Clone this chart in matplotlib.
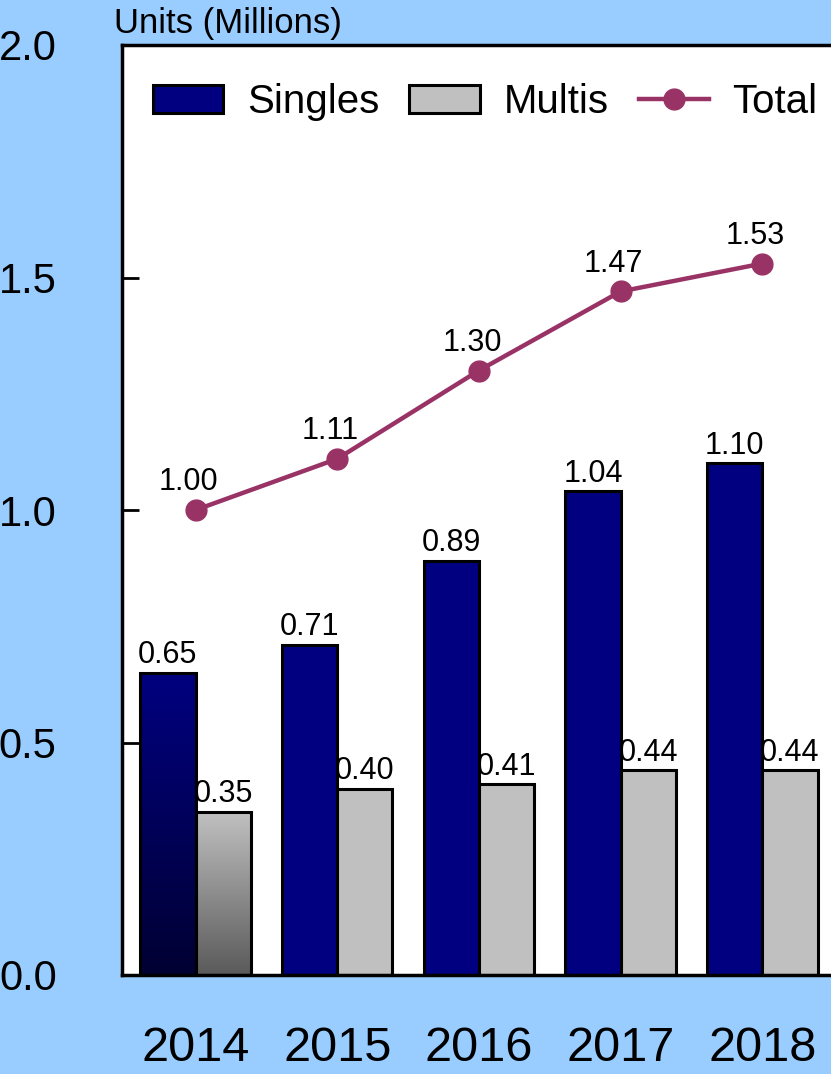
import numpy as np
import matplotlib
matplotlib.use('Agg')
import matplotlib.pyplot as plt
from matplotlib.patches import Patch
from matplotlib.lines import Line2D
from matplotlib.colors import LinearSegmentedColormap

years = ['2014', '2015', '2016', '2017', '2018']
singles = [0.65, 0.71, 0.89, 1.04, 1.10]
multis = [0.35, 0.40, 0.41, 0.44, 0.44]
total = [1.00, 1.11, 1.30, 1.47, 1.53]

navy = '#000080'
grey = '#C0C0C0'
maroon = '#993366'
bg = '#99CCFF'

plt.rcParams['font.family'] = ['Liberation Sans', 'DejaVu Sans']

fig = plt.figure(figsize=(8.31, 10.74), dpi=100, facecolor=bg)
ax = fig.add_axes([122 / 831, 1 - 975 / 1074, 714 / 831, 930 / 1074])
ax.set_facecolor('white')

x = np.arange(len(years))
w = 0.39
b1 = ax.bar(x - w / 2, singles, w, color=navy, edgecolor='black', linewidth=2.2, zorder=2)
b2 = ax.bar(x + w / 2, multis, w, color=grey, edgecolor='black', linewidth=2.2, zorder=2)

# gradient fill on the first pair of bars
for bars, c_top, c_bot in [(b1, navy, '#000033'), (b2, grey, '#5A5A5A')]:
    p = bars.patches[0]
    p.set_facecolor('none')
    cmap = LinearSegmentedColormap.from_list('g', [c_bot, c_top])
    x0, y0 = p.get_x(), p.get_y()
    grad = np.linspace(0, 1, 256).reshape(-1, 1)
    im = ax.imshow(grad, cmap=cmap, origin='lower', aspect='auto',
                   extent=[x0, x0 + p.get_width(), y0, y0 + p.get_height()], zorder=1.5)
    im.set_clip_path(p)

ax.plot(x, total, color=maroon, linewidth=3.2, marker='o', markersize=15, zorder=3)

for i in range(len(years)):
    ax.annotate(f'{singles[i]:.2f}', (x[i] - w / 2, singles[i]), xytext=(0, 2),
                textcoords='offset points', ha='center', va='bottom', fontsize=22)
    ax.annotate(f'{multis[i]:.2f}', (x[i] + w / 2, multis[i]), xytext=(0, 2),
                textcoords='offset points', ha='center', va='bottom', fontsize=22)
    ax.annotate(f'{total[i]:.2f}', (x[i], total[i]), xytext=(-5, 9),
                textcoords='offset points', ha='center', va='bottom', fontsize=22)

ax.set_xlim(-0.519, 4.52)
ax.set_ylim(0, 2.0)
ax.set_yticks([0, 0.5, 1.0, 1.5, 2.0])
ax.set_yticklabels(['0.0', '0.5', '1.0', '1.5', '2.0'], fontsize=30)
ax.set_xticks(x)
ax.set_xticklabels(years, fontsize=35)
ax.tick_params(axis='y', direction='in', length=12, width=2, pad=47)
ax.tick_params(axis='x', length=0, pad=37)
for s in ax.spines.values():
    s.set_linewidth(2.5)

fig.text(114 / 831, 1 - 24 / 1074, 'Units (Millions)', fontsize=25, va='center', ha='left')

handles = [Patch(facecolor=navy, edgecolor='black', linewidth=2.2),
           Patch(facecolor=grey, edgecolor='black', linewidth=2.2),
           Line2D([], [], color=maroon, linewidth=3.2, marker='o', markersize=15)]
ax.legend(handles, ['Singles', 'Multis', 'Total'], ncol=3, frameon=False,
          loc='center left', bbox_to_anchor=(153 / 831, 1 - 102 / 1074),
          bbox_transform=fig.transFigure, fontsize=29, borderpad=0, borderaxespad=0,
          handlelength=1.75, handleheight=0.72, handletextpad=0.58, columnspacing=0.75)

fig.savefig('out.png', dpi=100, facecolor=bg)
